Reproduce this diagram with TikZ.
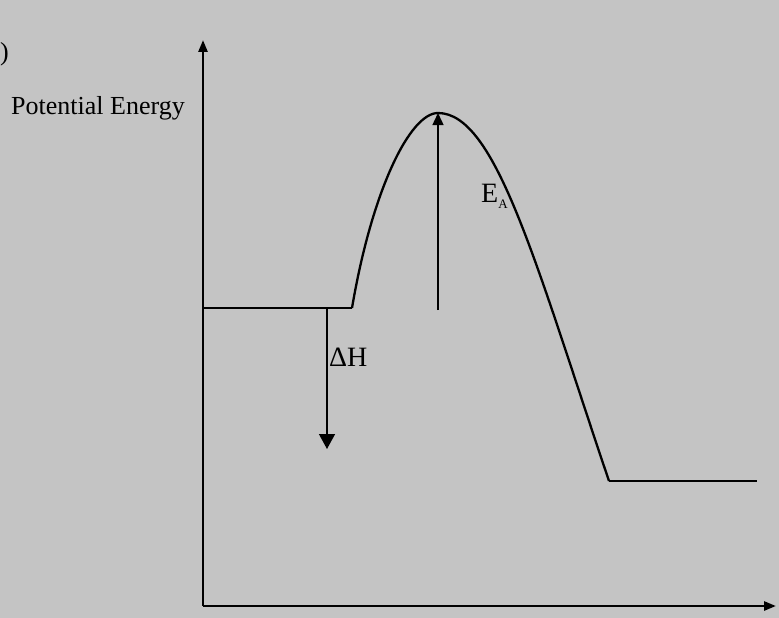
\documentclass[tikz,border=0pt]{standalone}
\usepackage{fontspec}
\setmainfont{Liberation Serif}
\usetikzlibrary{arrows.meta}
\definecolor{bggrey}{RGB}{196,196,196}
\tikzset{
  axisline/.style={line width=2.6pt, black, -{Triangle[length=12pt,width=9pt]}},
  levelline/.style={line width=2pt, black},
  curveline/.style={line width=2.3pt, black},
  gaparrow/.style={line width=1.4pt, black, -{Triangle[length=15pt,width=16pt]}},
  lbl/.style={font=\fontsize{26}{29}\selectfont, inner sep=0pt},
  biglbl/.style={font=\fontsize{28}{31}\selectfont, inner sep=0pt}
}
\begin{document}
\begin{tikzpicture}[x=1pt,y=-1pt]
\useasboundingbox (0,0) rectangle (779,618);
\fill[bggrey] (0,0) rectangle (779,618);
% axes
\coordinate (O) at (203,606);
\coordinate (Ytop) at (203,40);
\coordinate (Xend) at (776,606);
\draw[axisline] (O) -- (Ytop);
\draw[axisline] (O) -- (Xend);
% levels and curve
\coordinate (R0) at (203,308);
\coordinate (R1) at (352,308);
\coordinate (Pk) at (438,113);
\coordinate (P0) at (609,481);
\coordinate (P1) at (757,481);
\draw[levelline] (R0) -- (R1);
\draw[curveline] (R1) .. controls (372,190) and (410,113) .. (Pk)
                      .. controls (496,113) and (536,265) .. (P0);
\draw[levelline] (P0) -- (P1);
% Ea arrow
\coordinate (EaB) at (438,310);
\draw[gaparrow, -{Triangle[length=12pt,width=11pt]}] (EaB) -- (Pk);
% dH arrow
\coordinate (dHtop) at (327,308);
\coordinate (dHbot) at (327,449);
\draw[gaparrow] (dHtop) -- (dHbot);
% labels
\node[lbl, anchor=west] (pe) at (11,108) {Potential Energy};
\node[biglbl, anchor=west] (ea) at (481,196) {E\raisebox{-6pt}{\fontsize{13}{13}\selectfont A}};
\node[biglbl, anchor=west] (dh) at (329,357) {ΔH};
\node[lbl, anchor=west] (par) at (0,54) {)};
\end{tikzpicture}
\end{document}
